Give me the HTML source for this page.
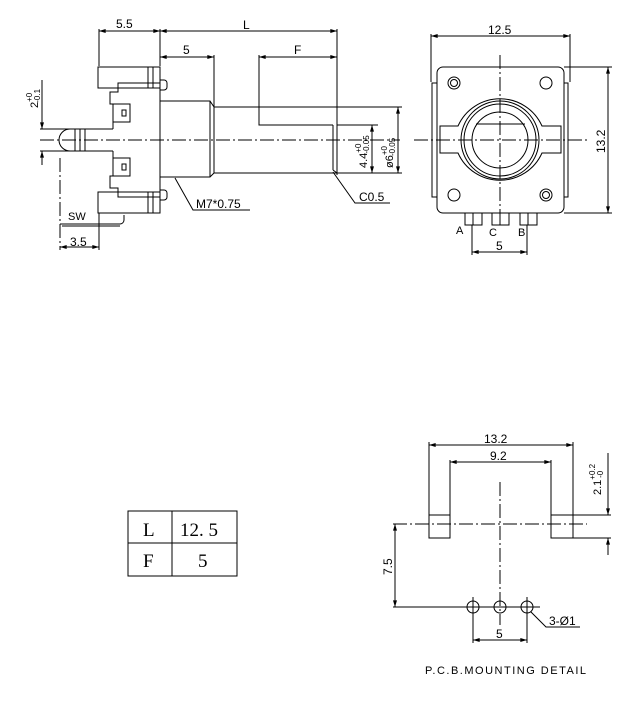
<!DOCTYPE html>
<html><head><meta charset="utf-8"><style>
html,body{margin:0;padding:0;background:#fff}
svg{display:block}
text{font-family:"Liberation Sans",sans-serif;fill:#000}
</style></head><body>
<svg width="642" height="707" viewBox="0 0 642 707" xmlns="http://www.w3.org/2000/svg">
<defs>
<marker id="a" viewBox="0 0 10 6" refX="10" refY="3" markerWidth="8" markerHeight="4" orient="auto-start-reverse" markerUnits="userSpaceOnUse"><path d="M0,0L10,3L0,6z" fill="#000"/></marker>
</defs>
<g stroke="#000" stroke-width="1" fill="none">
<line x1="99" y1="29" x2="99" y2="66"/>
<line x1="160" y1="29" x2="160" y2="66"/>
<line x1="337" y1="29" x2="337" y2="175"/>
<line x1="99" y1="31" x2="160" y2="31" marker-start="url(#a)" marker-end="url(#a)"/>
<line x1="160" y1="31" x2="337" y2="31" marker-start="url(#a)" marker-end="url(#a)"/>
<line x1="214" y1="55" x2="214" y2="107"/>
<line x1="160" y1="57" x2="214" y2="57" marker-start="url(#a)" marker-end="url(#a)"/>
<line x1="259" y1="55" x2="259" y2="125"/>
<line x1="259" y1="57" x2="337" y2="57" marker-start="url(#a)" marker-end="url(#a)"/>
<path d="M160,101 H210 L214,107 V173 L210,177 H160"/>
<line x1="210" y1="101" x2="210" y2="177"/>
<path d="M214,107 H337 V173 H214"/>
<path d="M259,107 V125 H333"/>
<line x1="333" y1="125" x2="333" y2="170"/>
<line x1="333" y1="170" x2="337" y2="173"/>
<line x1="160" y1="67" x2="160" y2="213"/>
<rect x="98" y="67" width="50" height="21"/>
<rect x="148" y="67" width="12" height="21"/>
<line x1="153" y1="67" x2="153" y2="88"/>
<rect x="98" y="192" width="50" height="21"/>
<rect x="148" y="192" width="12" height="21"/>
<line x1="153" y1="192" x2="153" y2="213"/>
<path d="M160,80 h4 a3,3 0 0 1 3,3 v4 a3,3 0 0 1 -3,3 h-4"/>
<path d="M160,190 h4 a3,3 0 0 1 3,3 v4 a3,3 0 0 1 -3,3 h-4"/>
<path d="M118,88 V83 H160 M118,88 V92 H110 V104 H113 V129"/>
<path d="M118,192 V197 H160 M118,192 V188 H110 V176 H113 V151"/>
<rect x="113" y="104" width="17" height="18"/>
<rect x="122" y="110" width="4" height="6"/>
<rect x="113" y="158" width="17" height="18"/>
<rect x="122" y="164" width="4" height="6"/>
<line x1="40" y1="129" x2="113" y2="129"/>
<line x1="40" y1="151" x2="113" y2="151"/>
<path d="M88,129 H70 A11,11 0 0 0 70,151 H88"/>
<line x1="75" y1="129" x2="75" y2="151"/><line x1="80" y1="129" x2="80" y2="151"/><line x1="85" y1="129" x2="85" y2="151"/>
<line x1="42" y1="80" x2="42" y2="129" marker-end="url(#a)"/>
<line x1="42" y1="151" x2="42" y2="165" marker-start="url(#a)"/>
<line x1="40" y1="140" x2="400" y2="140" stroke-dasharray="14,3,2,3"/>
<line x1="60" y1="158" x2="60" y2="250" stroke-dasharray="14,3,2,3"/>
<path d="M60,224 H120 a4,4 0 0 0 4,-4 v-5" />
<line x1="62" y1="226" x2="120" y2="226"/>
<line x1="99" y1="213" x2="99" y2="250"/>
<line x1="60" y1="247" x2="99" y2="247" marker-start="url(#a)" marker-end="url(#a)"/>
<line x1="337" y1="107" x2="402" y2="107"/>
<line x1="337" y1="173" x2="402" y2="173"/>
<line x1="337" y1="125" x2="378" y2="125"/>
<line x1="372" y1="125" x2="372" y2="173" marker-start="url(#a)" marker-end="url(#a)"/>
<line x1="398" y1="107" x2="398" y2="173" marker-start="url(#a)" marker-end="url(#a)"/>
<path d="M175,178 L193,210 H250"/>
<path d="M333,172 L355,203 H390"/>
<line x1="431" y1="34" x2="431" y2="82"/>
<line x1="570" y1="34" x2="570" y2="82"/>
<line x1="431" y1="36" x2="570" y2="36" marker-start="url(#a)" marker-end="url(#a)"/>
<rect x="437" y="67" width="127" height="146" rx="6"/>
<path d="M437,83 H432 V197 H437 M564,83 H568 V197 H564"/>
<line x1="500" y1="55" x2="500" y2="222" stroke-dasharray="14,3,2,3"/>
<line x1="414" y1="140" x2="588" y2="140" stroke-dasharray="14,3,2,3"/>
<circle cx="454" cy="83" r="6"/><circle cx="454" cy="83" r="3.5"/>
<circle cx="546" cy="83" r="6"/>
<circle cx="454" cy="195" r="6"/>
<circle cx="546" cy="195" r="6"/><circle cx="546" cy="195" r="3.5"/>
<path d="M458,126 A46,46 0 0 1 542,126 H561 V153 H542 A46,46 0 0 1 458,153 H440 V126 Z"/>
<circle cx="500" cy="140" r="39"/>
<circle cx="500" cy="140" r="36"/>
<circle cx="500" cy="140" r="28"/>
<line x1="476" y1="124" x2="525" y2="124"/>
<line x1="564" y1="67" x2="612" y2="67"/>
<line x1="564" y1="213" x2="612" y2="213"/>
<line x1="608" y1="67" x2="608" y2="213" marker-start="url(#a)" marker-end="url(#a)"/>
<rect x="465" y="213" width="17" height="12"/><line x1="473" y1="213" x2="473" y2="225"/>
<rect x="492" y="213" width="17" height="12"/><line x1="500" y1="213" x2="500" y2="225"/>
<rect x="520" y="213" width="17" height="12"/><line x1="528" y1="213" x2="528" y2="225"/>
<line x1="472" y1="225" x2="472" y2="255"/>
<line x1="527" y1="225" x2="527" y2="255"/>
<line x1="472" y1="252" x2="527" y2="252" marker-start="url(#a)" marker-end="url(#a)"/>
<rect x="128" y="511" width="109" height="65"/>
<line x1="172" y1="511" x2="172" y2="576"/>
<line x1="128" y1="543" x2="237" y2="543"/>
<line x1="429" y1="442" x2="429" y2="515"/>
<line x1="573" y1="442" x2="573" y2="515"/>
<line x1="429" y1="445" x2="573" y2="445" marker-start="url(#a)" marker-end="url(#a)"/>
<line x1="450" y1="460" x2="450" y2="515"/>
<line x1="551" y1="460" x2="551" y2="515"/>
<line x1="450" y1="462" x2="551" y2="462" marker-start="url(#a)" marker-end="url(#a)"/>
<rect x="429" y="515" width="21" height="23"/>
<rect x="551" y="515" width="22" height="23"/>
<line x1="573" y1="515" x2="611" y2="515"/>
<line x1="573" y1="538" x2="611" y2="538"/>
<line x1="608" y1="453" x2="608" y2="515" marker-end="url(#a)"/>
<line x1="608" y1="538" x2="608" y2="555" marker-start="url(#a)"/>
<line x1="393" y1="524" x2="587" y2="524" stroke-dasharray="14,3,2,3"/>
<line x1="500" y1="482" x2="500" y2="625" stroke-dasharray="14,3,2,3"/>
<line x1="395" y1="524" x2="395" y2="607" marker-start="url(#a)" marker-end="url(#a)"/>
<line x1="393" y1="607" x2="540" y2="607"/>
<circle cx="473" cy="607" r="6"/><circle cx="500" cy="607" r="6"/><circle cx="527" cy="607" r="6"/>
<line x1="473" y1="597" x2="473" y2="643"/><line x1="527" y1="597" x2="527" y2="643"/>
<line x1="473" y1="640" x2="527" y2="640" marker-start="url(#a)" marker-end="url(#a)"/>
<path d="M531,612 L546,627 H580"/>
</g>
<g font-size="12">
<text x="116" y="28">5.5</text>
<text x="243" y="29">L</text>
<text x="183" y="54">5</text>
<text x="294" y="54">F</text>
<text x="196" y="208">M7*0.75</text>
<text x="359" y="201">C0.5</text>
<text x="68" y="220" font-size="11">SW</text>
<text x="70" y="246">3.5</text>
<text transform="translate(38,108) rotate(-90)" font-size="11">2<tspan font-size="8" dy="-6">+0</tspan><tspan font-size="8" dx="-10" dy="8">-0.1</tspan></text>
<text transform="translate(367,168) rotate(-90)" font-size="11">4.4<tspan font-size="8" dy="-6">+0</tspan><tspan font-size="8" dx="-10" dy="8">-0.05</tspan></text>
<text transform="translate(393,168) rotate(-90)" font-size="11">ø6<tspan font-size="8" dy="-6">+0</tspan><tspan font-size="8" dx="-10" dy="8">-0.05</tspan></text>
<text x="488" y="34">12.5</text>
<text transform="translate(605,153) rotate(-90)">13.2</text>
<text x="456" y="234" font-size="11">A</text>
<text x="489" y="236" font-size="11">C</text>
<text x="518" y="236" font-size="11">B</text>
<text x="496" y="250">5</text>
<text x="143" y="536" style="font-family:'Liberation Serif',serif;font-size:19px">L</text>
<text x="180" y="536" style="font-family:'Liberation Serif',serif;font-size:19px">12. 5</text>
<text x="143" y="567" style="font-family:'Liberation Serif',serif;font-size:19px">F</text>
<text x="198" y="567" style="font-family:'Liberation Serif',serif;font-size:19px">5</text>
<text x="484" y="443">13.2</text>
<text x="490" y="460">9.2</text>
<text transform="translate(601,495) rotate(-90)" font-size="11">2.1<tspan font-size="8" dy="-6">+0.2</tspan><tspan font-size="8" dx="-14" dy="8">-0</tspan></text>
<text transform="translate(392,575) rotate(-90)">7.5</text>
<text x="496" y="638">5</text>
<text x="549" y="625">3-Ø1</text>
<text x="425" y="674" font-size="11" letter-spacing="1.5">P.C.B.MOUNTING  DETAIL</text>
</g>
</svg>
</body></html>
